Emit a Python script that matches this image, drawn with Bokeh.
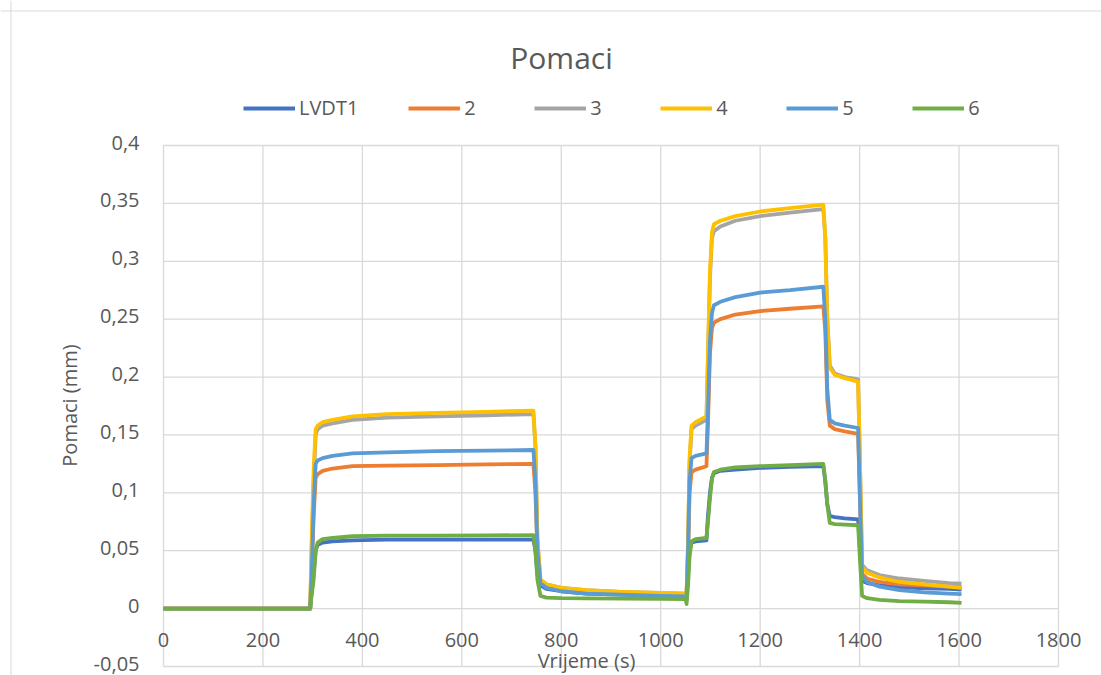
import math
from bokeh.plotting import figure
from bokeh.models import (Legend, LegendItem, Label, LabelSet, ColumnDataSource, Range1d, Span)
from bokeh.core.properties import value
from bokeh.embed import file_html
from bokeh.resources import INLINE

# ---------------- data ----------------
time_s = [0, 295, 298, 302, 306, 310, 320, 340, 380, 450, 550, 650, 744, 748, 752, 758,
          770, 800, 850, 920, 1000, 1050, 1052, 1055, 1058, 1062, 1070, 1092, 1095, 1099, 1103,
          1107, 1120, 1150, 1200, 1260, 1327, 1331, 1335, 1340, 1350, 1370, 1397, 1401,
          1405, 1415, 1440, 1480, 1530, 1580, 1605]

lvdt1 = [0, 0, 0.015, 0.03, 0.05, 0.055, 0.057, 0.058, 0.059, 0.0595, 0.0595, 0.0595, 0.0595,
         0.05, 0.03, 0.02, 0.017, 0.015, 0.013, 0.012, 0.0115, 0.011, 0.011, 0.03, 0.05, 0.057, 0.058,
         0.059, 0.08, 0.10, 0.113, 0.117, 0.119, 0.120, 0.1215, 0.1225, 0.123, 0.11, 0.09, 0.080,
         0.079, 0.078, 0.077, 0.05, 0.024, 0.022, 0.020, 0.0185, 0.0175, 0.017, 0.0165]

lvdt2 = [0, 0, 0.03, 0.08, 0.113, 0.116, 0.119, 0.121, 0.123, 0.1235, 0.124, 0.1245, 0.125,
         0.10, 0.05, 0.023, 0.019, 0.016, 0.014, 0.0128, 0.012, 0.0115, 0.0115, 0.045, 0.10, 0.118, 0.120,
         0.123, 0.16, 0.22, 0.242, 0.247, 0.250, 0.254, 0.257, 0.259, 0.261, 0.24, 0.18, 0.158,
         0.155, 0.153, 0.151, 0.09, 0.030, 0.026, 0.023, 0.021, 0.020, 0.019, 0.0185]

lvdt3 = [0, 0, 0.05, 0.11, 0.15, 0.155, 0.158, 0.160, 0.163, 0.165, 0.166, 0.167, 0.168,
         0.14, 0.06, 0.025, 0.021, 0.018, 0.016, 0.0145, 0.0135, 0.013, 0.013, 0.055, 0.125, 0.155, 0.158,
         0.163, 0.215, 0.285, 0.32, 0.326, 0.330, 0.335, 0.339, 0.342, 0.345, 0.32, 0.25, 0.21,
         0.203, 0.200, 0.198, 0.12, 0.038, 0.033, 0.029, 0.026, 0.024, 0.022, 0.0215]

lvdt4 = [0, 0, 0.06, 0.12, 0.155, 0.158, 0.161, 0.163, 0.166, 0.168, 0.169, 0.170, 0.171,
         0.14, 0.06, 0.025, 0.021, 0.018, 0.016, 0.0145, 0.0135, 0.013, 0.013, 0.06, 0.13, 0.158, 0.161,
         0.166, 0.22, 0.29, 0.325, 0.332, 0.335, 0.339, 0.343, 0.346, 0.349, 0.32, 0.25, 0.208,
         0.202, 0.199, 0.196, 0.12, 0.036, 0.031, 0.027, 0.023, 0.021, 0.019, 0.018]

lvdt5 = [0, 0, 0.03, 0.09, 0.125, 0.128, 0.130, 0.132, 0.134, 0.135, 0.136, 0.1365, 0.137,
         0.11, 0.05, 0.022, 0.018, 0.015, 0.013, 0.012, 0.011, 0.0105, 0.0105, 0.05, 0.11, 0.130, 0.132,
         0.134, 0.17, 0.23, 0.255, 0.262, 0.265, 0.269, 0.273, 0.275, 0.278, 0.25, 0.19, 0.163,
         0.160, 0.158, 0.156, 0.09, 0.028, 0.023, 0.019, 0.016, 0.014, 0.013, 0.0125]

lvdt6 = [0, 0, 0.012, 0.025, 0.05, 0.057, 0.060, 0.061, 0.0625, 0.063, 0.063, 0.0632, 0.0635,
         0.05, 0.025, 0.011, 0.0095, 0.009, 0.0088, 0.0086, 0.0085, 0.0083, 0.004, 0.02, 0.045, 0.058, 0.060,
         0.061, 0.075, 0.095, 0.112, 0.118, 0.120, 0.122, 0.123, 0.124, 0.125, 0.11, 0.09, 0.074,
         0.073, 0.0725, 0.072, 0.04, 0.011, 0.009, 0.0075, 0.0065, 0.006, 0.0055, 0.005]

series_names = ["LVDT1", "2", "3", "4", "5", "6"]
series_values = [lvdt1, lvdt2, lvdt3, lvdt4, lvdt5, lvdt6]
colors = ["#4472C4", "#ED7D31", "#A5A5A5", "#FFC000", "#5B9BD5", "#70AD47"]

x_ticks = [0, 200, 400, 600, 800, 1000, 1200, 1400, 1600, 1800]
x_labels = ["0", "200", "400", "600", "800", "1000", "1200", "1400", "1600", "1800"]
y_ticks = [-0.05, 0, 0.05, 0.1, 0.15, 0.2, 0.25, 0.3, 0.35, 0.4]
y_labels = ["-0,05", "0", "0,05", "0,1", "0,15", "0,2", "0,25", "0,3", "0,35", "0,4"]

FONT = "Open Sans"
TXT = "#595959"
GRID = "#D9D9D9"

W, H = 1101, 675
# plot area in canvas pixels
PL, PR, PT, PB = 163, 1058, 145, 666
x0, x1 = x_ticks[0], x_ticks[-1]
y0, y1 = y_ticks[0], y_ticks[-1]
sx = (PR - PL) / (x1 - x0)
sy = (PB - PT) / (y1 - y0)
xr = Range1d(x0 - PL / sx, x1 + (W - PR) / sx)
yr = Range1d(y0 - (H - PB) / sy, y1 + PT / sy)

p = figure(width=W, height=H, x_range=xr, y_range=yr, output_backend="svg",
           toolbar_location=None, x_axis_location=None, y_axis_location=None,
           min_border=0)
p.outline_line_color = None
p.background_fill_color = "white"
p.border_fill_color = "white"
for g in p.grid:
    g.visible = False

# grid lines (from tick lists)
p.segment(x0=x_ticks, x1=x_ticks, y0=[y0] * len(x_ticks), y1=[y1] * len(x_ticks),
          line_color=GRID, line_width=1.3)
p.segment(x0=[x0] * len(y_ticks), x1=[x1] * len(y_ticks), y0=y_ticks, y1=y_ticks,
          line_color=GRID, line_width=1.3)

# series
items = []
for name, vals, col in zip(series_names, series_values, colors):
    r = p.line(time_s, vals, line_color=col, line_width=3.8, line_join="round")
    items.append(LegendItem(label=name, renderers=[r]))

legend = Legend(items=items, orientation="horizontal", location=(243, H - 121),
                label_text_font=FONT, label_text_font_size="20px", label_text_color=TXT,
                glyph_width=52, glyph_height=20, label_width=20, label_height=20,
                label_standoff=4, spacing=50,
                padding=0, margin=0, border_line_color=None, background_fill_alpha=0)
p.add_layout(legend)

# title
p.add_layout(Label(x=561, y=H - 57, x_units="screen", y_units="screen", text="Pomaci",
                   text_align="center", text_baseline="middle", text_font=FONT,
                   text_font_size="30px", text_color=TXT))

# y tick labels
ysrc = ColumnDataSource(dict(x=[x0] * len(y_ticks), y=y_ticks, t=y_labels))
p.add_layout(LabelSet(x="x", y="y", text="t", source=ysrc, text_align="right",
                      text_baseline="middle", x_offset=-24, y_offset=3, text_line_height=1.0,
                      text_font=value(FONT), text_font_size="20px", text_color=TXT))
# y axis title
p.add_layout(Label(x=69, y=H - 405, x_units="screen", y_units="screen", text="Pomaci (mm)",
                   angle=math.pi / 2, text_align="center", text_baseline="middle",
                   text_font=FONT, text_font_size="20px", text_color=TXT))

# x tick labels drawn below y = 0
xsrc = ColumnDataSource(dict(x=x_ticks, y=[0] * len(x_ticks), t=x_labels))
p.add_layout(LabelSet(x="x", y="y", text="t", source=xsrc, text_align="center",
                      text_baseline="middle", y_offset=-31, text_font=value(FONT),
                      text_font_size="20px", text_color=TXT))
p.add_layout(Label(x=586, y=H - 660, x_units="screen", y_units="screen", text="Vrijeme (s)",
                   text_align="center", text_baseline="middle", text_line_height=1.0,
                   text_font=FONT, text_font_size="20px", text_color=TXT))

# chart area border (left and top edges)
p.add_layout(Span(location=10.5, location_units="screen", dimension="height",
                  line_color=GRID, line_width=1))
p.add_layout(Span(location=H - 10.5, location_units="screen", dimension="width",
                  line_color=GRID, line_width=1))

open("out.html", "w").write(file_html(p, INLINE))
